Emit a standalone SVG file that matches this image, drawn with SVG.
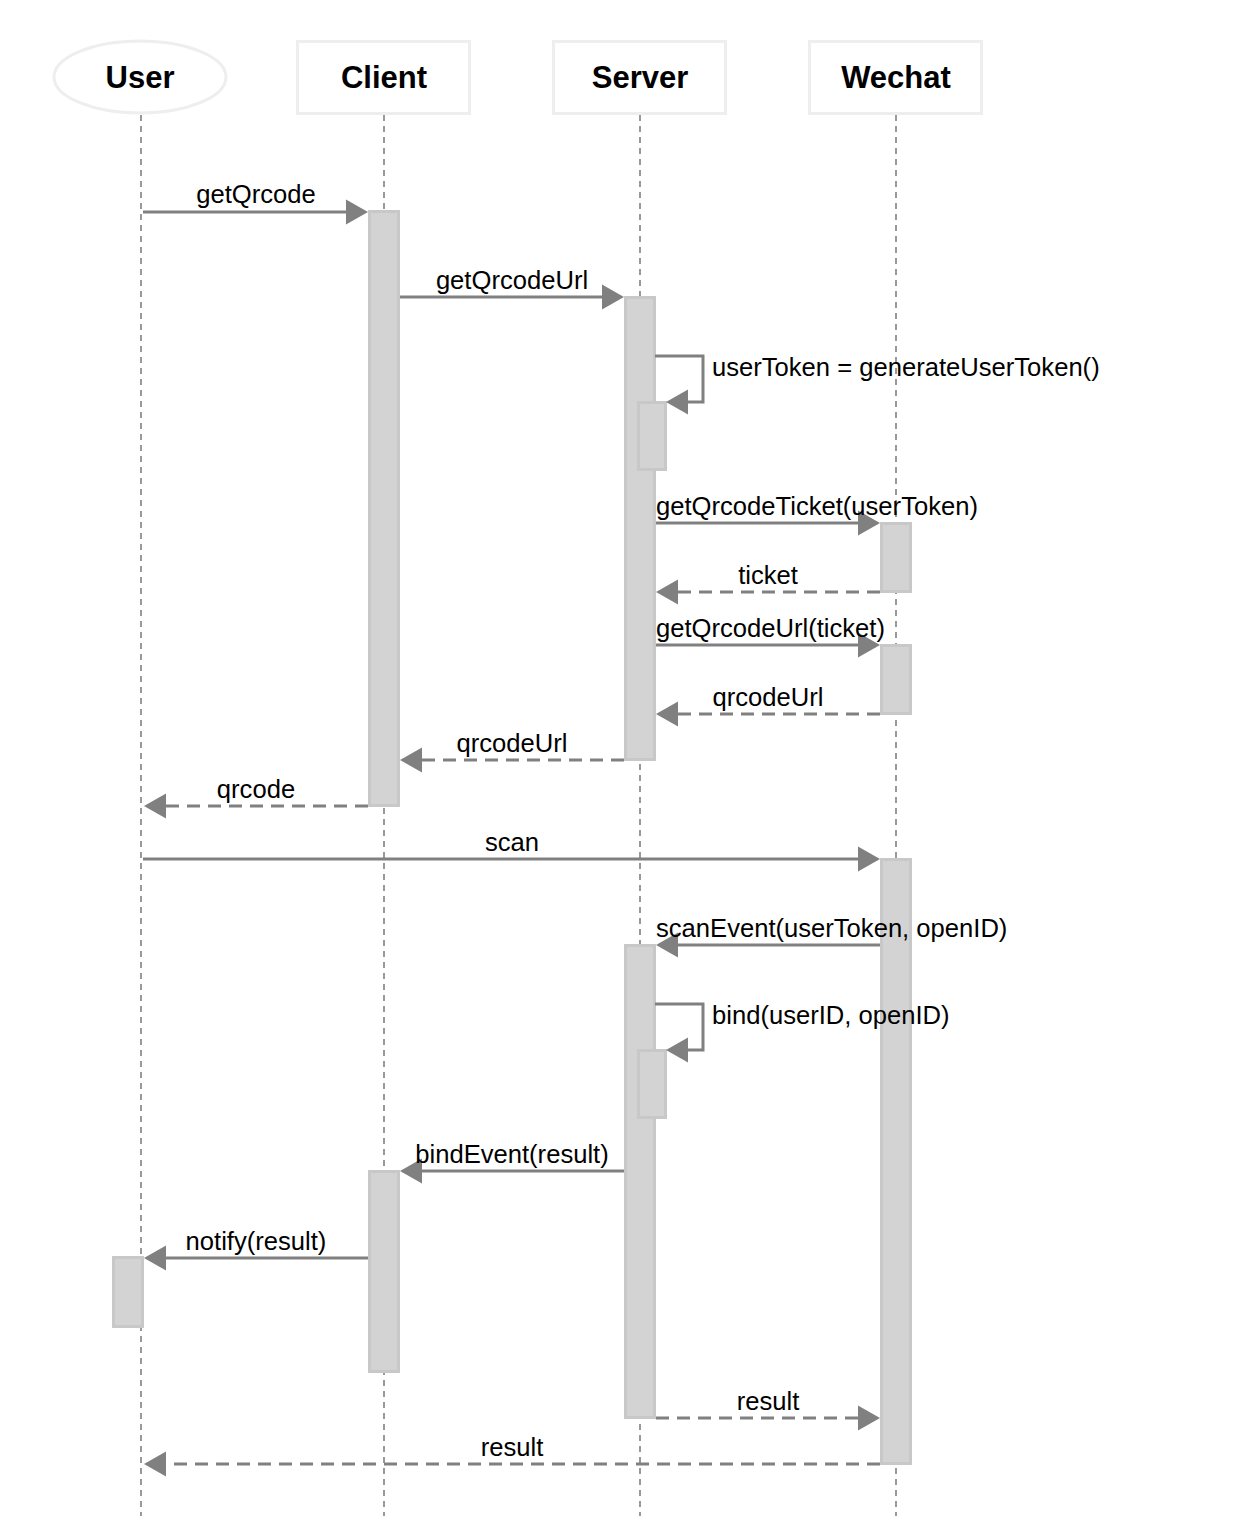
<svg xmlns="http://www.w3.org/2000/svg" width="1234" height="1516" viewBox="0 0 1234 1516">
<style>
.hdr{fill:#fff;stroke:#eeeeee;stroke-width:3}
.ht{font-family:"Liberation Sans",Arial,sans-serif;font-weight:bold;font-size:31px;fill:#000;text-anchor:middle}
.life{stroke:#808080;stroke-width:1.6;stroke-dasharray:6,5;fill:none}
.act{fill:#d3d3d3;stroke:#c8c8c8;stroke-width:3}
.msg{stroke:#808080;stroke-width:3;fill:none}
.dash{stroke-dasharray:13,8}
.lbl{font-family:"Liberation Sans",Arial,sans-serif;font-size:25.6px;fill:#000}
.c{text-anchor:middle}
</style>
<defs>
<marker id="ah" markerUnits="userSpaceOnUse" markerWidth="24" markerHeight="26" viewBox="0 -13 24 26" refX="0" refY="0" orient="auto">
<path d="M0,-12.5 L22,0 L0,12.5 z" fill="#808080"/>
</marker>
</defs>
<rect width="1234" height="1516" fill="#fff"/>
<g id="lifelines">
<line class="life" x1="141" y1="115" x2="141" y2="1516"/>
<line class="life" x1="384" y1="115" x2="384" y2="1516"/>
<line class="life" x1="640" y1="115" x2="640" y2="1516"/>
<line class="life" x1="896" y1="115" x2="896" y2="1516"/>
</g>
<g id="User"><ellipse class="hdr" cx="140" cy="77" rx="86" ry="36"/><text class="ht" x="140" y="88">User</text></g>
<g id="Client"><rect class="hdr" x="297.5" y="41.5" width="172" height="72"/><text class="ht" x="384" y="88">Client</text></g>
<g id="Server"><rect class="hdr" x="553.5" y="41.5" width="172" height="72"/><text class="ht" x="640" y="88">Server</text></g>
<g id="Wechat"><rect class="hdr" x="809.5" y="41.5" width="172" height="72"/><text class="ht" x="896" y="88">Wechat</text></g>
<g id="activations">
<rect class="act" x="369.5" y="211.5" width="29" height="594"/>
<rect class="act" x="625.5" y="297.5" width="29" height="462"/>
<rect class="act" x="638.5" y="402.5" width="27" height="67"/>
<rect class="act" x="881.5" y="523.5" width="29" height="68"/>
<rect class="act" x="881.5" y="645.5" width="29" height="68"/>
<rect class="act" x="881.5" y="859.5" width="29" height="604"/>
<rect class="act" x="625.5" y="945.5" width="29" height="472"/>
<rect class="act" x="638.5" y="1050.5" width="27" height="67"/>
<rect class="act" x="369.5" y="1171.5" width="29" height="200"/>
<rect class="act" x="113.5" y="1257.5" width="29" height="69"/>
</g>
<g id="connectors">
<line class="msg" x1="143" y1="212" x2="346" y2="212" marker-end="url(#ah)"/>
<line class="msg" x1="400" y1="297" x2="602" y2="297" marker-end="url(#ah)"/>
<polyline class="msg" points="655,356 703,356 703,402 688,402" marker-end="url(#ah)"/>
<line class="msg" x1="656" y1="523" x2="858" y2="523" marker-end="url(#ah)"/>
<line class="msg dash" x1="880" y1="592" x2="678" y2="592" marker-end="url(#ah)"/>
<line class="msg" x1="656" y1="645" x2="858" y2="645" marker-end="url(#ah)"/>
<line class="msg dash" x1="880" y1="714" x2="678" y2="714" marker-end="url(#ah)"/>
<line class="msg dash" x1="624" y1="760" x2="422" y2="760" marker-end="url(#ah)"/>
<line class="msg dash" x1="368" y1="806" x2="166" y2="806" marker-end="url(#ah)"/>
<line class="msg" x1="143" y1="859" x2="858" y2="859" marker-end="url(#ah)"/>
<line class="msg" x1="880" y1="945" x2="678" y2="945" marker-end="url(#ah)"/>
<polyline class="msg" points="655,1004 703,1004 703,1050 688,1050" marker-end="url(#ah)"/>
<line class="msg" x1="624" y1="1171" x2="422" y2="1171" marker-end="url(#ah)"/>
<line class="msg" x1="368" y1="1258" x2="166" y2="1258" marker-end="url(#ah)"/>
<line class="msg dash" x1="656" y1="1418" x2="858" y2="1418" marker-end="url(#ah)"/>
<line class="msg dash" x1="880" y1="1464" x2="166" y2="1464" marker-end="url(#ah)"/>
</g>
<g id="labels">
<text class="lbl c" x="256" y="203">getQrcode</text>
<text class="lbl c" x="512" y="289">getQrcodeUrl</text>
<text class="lbl" x="712" y="376">userToken = generateUserToken()</text>
<text class="lbl" x="656" y="515">getQrcodeTicket(userToken)</text>
<text class="lbl c" x="768" y="584">ticket</text>
<text class="lbl" x="656" y="637">getQrcodeUrl(ticket)</text>
<text class="lbl c" x="768" y="706">qrcodeUrl</text>
<text class="lbl c" x="512" y="752">qrcodeUrl</text>
<text class="lbl c" x="256" y="798">qrcode</text>
<text class="lbl c" x="512" y="851">scan</text>
<text class="lbl" x="656" y="937">scanEvent(userToken, openID)</text>
<text class="lbl" x="712" y="1024">bind(userID, openID)</text>
<text class="lbl c" x="512" y="1163">bindEvent(result)</text>
<text class="lbl c" x="256" y="1250">notify(result)</text>
<text class="lbl c" x="768" y="1410">result</text>
<text class="lbl c" x="512" y="1456">result</text>
</g>
</svg>
